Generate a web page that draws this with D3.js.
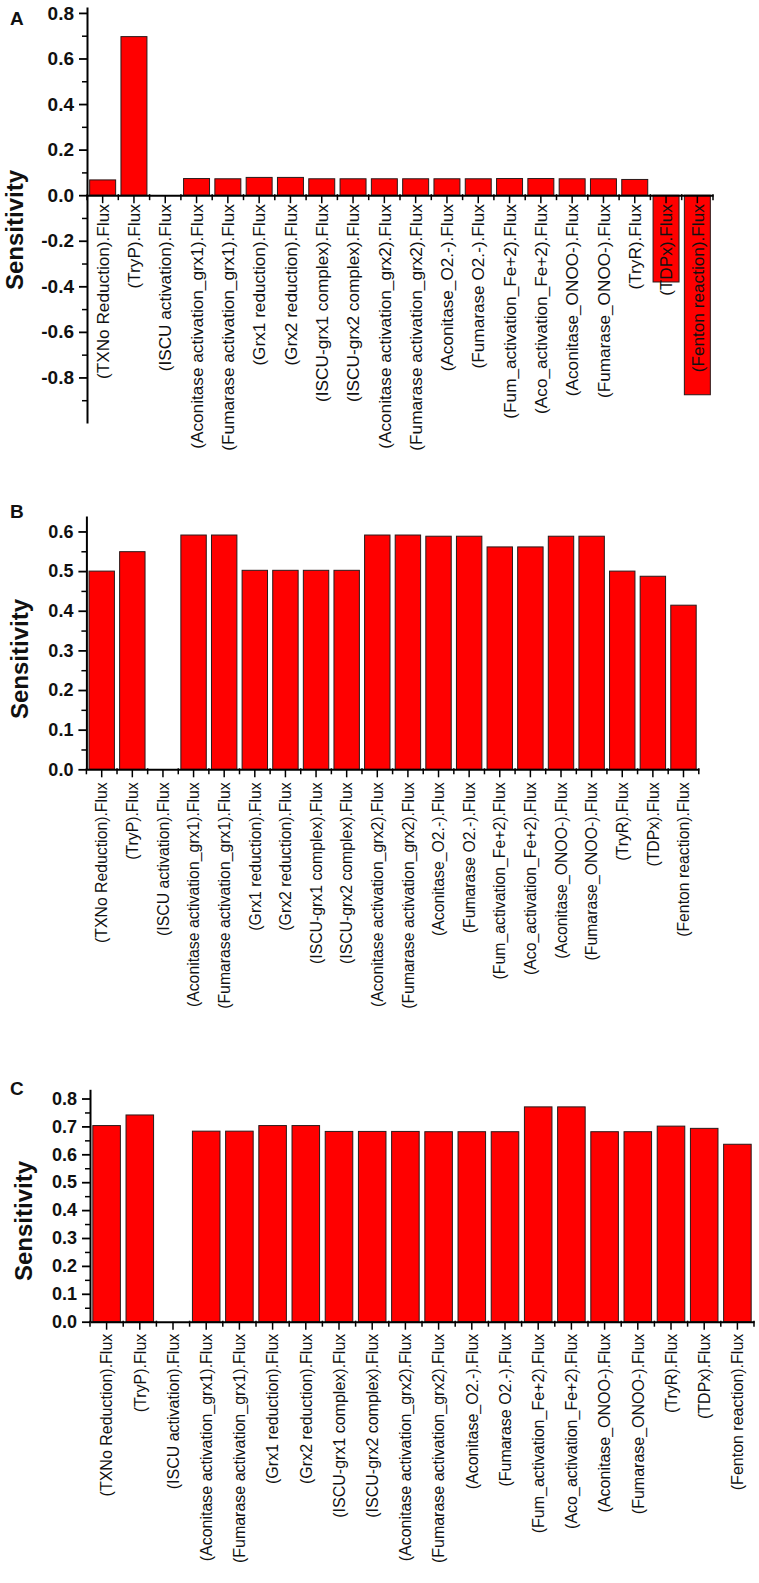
<!DOCTYPE html>
<html>
<head>
<meta charset="utf-8">
<script src="https://cdn.jsdelivr.net/npm/d3@7"></script>
<style>
  body { margin: 0; background: #fff; }
  svg { display: block; font-family: "Liberation Sans", Arial, sans-serif; }
</style>
</head>
<body>
<script>
const categories = [
  "(TXNo Reduction).Flux", "(TryP).Flux", "(ISCU activation).Flux",
  "(Aconitase activation_grx1).Flux", "(Fumarase activation_grx1).Flux",
  "(Grx1 reduction).Flux", "(Grx2 reduction).Flux",
  "(ISCU-grx1 complex).Flux", "(ISCU-grx2 complex).Flux",
  "(Aconitase activation_grx2).Flux", "(Fumarase activation_grx2).Flux",
  "(Aconitase_O2.-).Flux", "(Fumarase O2.-).Flux",
  "(Fum_activation_Fe+2).Flux", "(Aco_activation_Fe+2).Flux",
  "(Aconitase_ONOO-).Flux", "(Fumarase_ONOO-).Flux",
  "(TryR).Flux", "(TDPx).Flux", "(Fenton reaction).Flux"
]

const valuesA = [0.067, 0.696, 0, 0.073, 0.072, 0.078, 0.078, 0.072, 0.072, 0.072,
                 0.072, 0.072, 0.072, 0.073, 0.073, 0.072, 0.072, 0.069, -0.381, -0.876]
const valuesB = [0.500, 0.549, 0, 0.591, 0.591, 0.502, 0.502, 0.502, 0.502, 0.591,
                 0.591, 0.588, 0.588, 0.561, 0.561, 0.588, 0.588, 0.500, 0.487, 0.414]
const valuesC = [0.703, 0.741, 0, 0.683, 0.683, 0.703, 0.703, 0.682, 0.682, 0.682,
                 0.681, 0.681, 0.681, 0.770, 0.770, 0.681, 0.681, 0.701, 0.693, 0.636]

const ticksA = [-0.8, -0.6, -0.4, -0.2, 0.0, 0.2, 0.4, 0.6, 0.8]
const minorA = [-0.9, -0.7, -0.5, -0.3, -0.1, 0.1, 0.3, 0.5, 0.7]
const ticksB = [0.0, 0.1, 0.2, 0.3, 0.4, 0.5, 0.6]
const minorB = [0.05, 0.15, 0.25, 0.35, 0.45, 0.55]
const ticksC = [0.0, 0.1, 0.2, 0.3, 0.4, 0.5, 0.6, 0.7, 0.8]
const minorC = [0.05, 0.15, 0.25, 0.35, 0.45, 0.55, 0.65, 0.75]

const width = 759, height = 1583
const svg = d3.select("body").append("svg")
  .attr("width", width)
  .attr("height", height)

const panels = [
  { letter: "A", values: valuesA, ticks: ticksA, minor: minorA, domain: [-1.0, 0.826],
    left: 87, right: 713, top: 7, bottom: 423, letterY: 25, titleX: 23, titleY: 230,
    labelGap: 9, labelSize: 17.2, tickSize: 19 },
  { letter: "B", values: valuesB, ticks: ticksB, minor: minorB, domain: [0, 0.639],
    left: 86.4, right: 698.8, top: 516, bottom: 769.3, letterY: 518, titleX: 28, titleY: 659,
    labelGap: 13, labelSize: 15.8, tickSize: 18 },
  { letter: "C", values: valuesC, ticks: ticksC, minor: minorC, domain: [0, 0.833],
    left: 90, right: 754, top: 1089.3, bottom: 1321.7, letterY: 1095, titleX: 32, titleY: 1221,
    labelGap: 12, labelSize: 16, tickSize: 18 }
]

panels.forEach(drawPanel)

function drawPanel(p) {
  const pad = 0.17
  const x = d3.scaleBand()
    .domain(categories)
    .range([p.left, p.right])
    .paddingInner(pad)
    .paddingOuter(pad / 2)
  const y = d3.scaleLinear()
    .domain(p.domain)
    .range([p.bottom, p.top])
  const y0 = y(0)
  const g = svg.append("g")

  // bars
  g.append("g")
    .selectAll("rect")
    .data(p.values.map((v, i) => ({ c: categories[i], v })).filter(d => d.v !== 0))
    .join("rect")
      .attr("x", d => x(d.c))
      .attr("width", x.bandwidth())
      .attr("y", d => Math.min(y(d.v), y0))
      .attr("height", d => Math.abs(y(d.v) - y0))
      .attr("fill", "#ff0000")
      .attr("stroke", "#2a1a1a")
      .attr("stroke-width", 1)

  // y axis, major + minor
  const yAxis = g.append("g")
    .attr("transform", `translate(${p.left},0)`)
    .call(d3.axisLeft(y)
      .tickValues(p.ticks)
      .tickSize(8)
      .tickSizeOuter(0)
      .tickPadding(5)
      .tickFormat(v => (Math.abs(v) < 1e-9 ? 0 : v).toFixed(1)))
  yAxis.select(".domain").attr("stroke-width", 2)
  yAxis.selectAll(".tick line").attr("stroke-width", 1.8)
  yAxis.selectAll(".tick text")
    .attr("font-size", p.tickSize)
    .attr("font-weight", "bold")
    .attr("font-family", "'Liberation Sans', Arial, sans-serif")
    .attr("fill", "#111")

  g.append("g")
    .attr("transform", `translate(${p.left},0)`)
    .call(d3.axisLeft(y).tickValues(p.minor).tickSize(5).tickFormat(""))
    .call(s => s.select(".domain").remove())
    .selectAll(".tick line").attr("stroke-width", 1.5)

  // x axis at zero: center ticks with rotated labels
  const xAxis = g.append("g")
    .attr("transform", `translate(0,${y0})`)
    .call(d3.axisBottom(x).tickSize(8).tickSizeOuter(0))
  xAxis.select(".domain").attr("stroke-width", 2)
  xAxis.selectAll(".tick line").attr("stroke-width", 1.5)
  xAxis.selectAll(".tick text")
    .attr("transform", "rotate(-90)")
    .attr("x", -p.labelGap)
    .attr("y", 0)
    .attr("dy", "0.36em")
    .attr("text-anchor", "end")
    .attr("font-size", p.labelSize)
    .attr("font-family", "'Liberation Sans', Arial, sans-serif")
    .attr("fill", "#111")

  // boundary ticks between categories
  const bounds = categories.map(c => x(c) - x.step() * pad / 2)
  bounds.push(p.right)
  g.append("g")
    .selectAll("line")
    .data(bounds)
    .join("line")
      .attr("x1", d => d).attr("x2", d => d)
      .attr("y1", y0 - 1).attr("y2", y0 + 5)
      .attr("stroke", "#000")
      .attr("stroke-width", 1.5)

  // y title
  g.append("text")
    .attr("transform", `translate(${p.titleX},${p.titleY}) rotate(-90)`)
    .attr("text-anchor", "middle")
    .attr("font-size", 24)
    .attr("font-weight", "bold")
    .attr("fill", "#111")
    .text("Sensitivity")

  // panel letter
  g.append("text")
    .attr("x", 10)
    .attr("y", p.letterY)
    .attr("font-size", 19)
    .attr("font-weight", "bold")
    .attr("fill", "#111")
    .text(p.letter)
}
</script>
</body>
</html>
